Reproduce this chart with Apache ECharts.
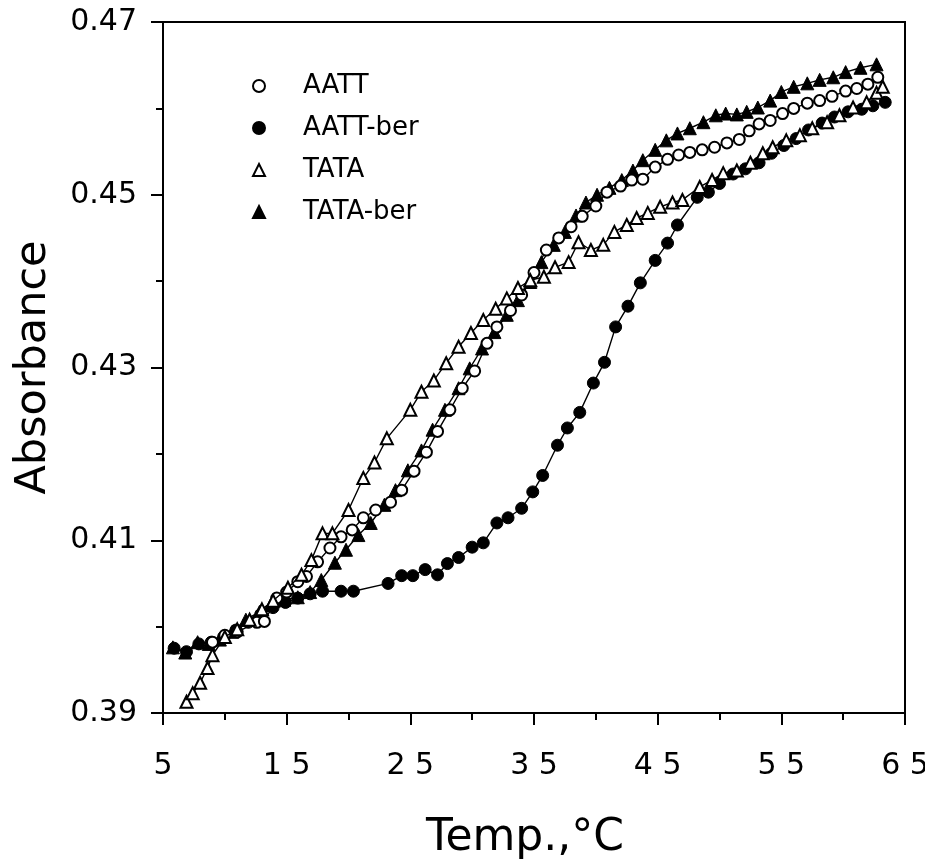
<!DOCTYPE html>
<html>
<head>
<meta charset="utf-8">
<script src="https://cdn.jsdelivr.net/npm/echarts@6/dist/echarts.min.js"></script>
<style>html,body{margin:0;padding:0;background:#fff;}#c{width:925px;height:861px;}</style>
</head>
<body>
<div id="c"></div>
<script>
// ---- data (Temp °C, Absorbance) ----
const aatt = [[9.0,0.3982],[10.0,0.3990],[11.0,0.3994],[12.6,0.4005],[13.2,0.4006],[14.2,0.4033],[15.0,0.4040],[15.9,0.4052],[16.6,0.4058],[17.5,0.4075],[18.5,0.4091],[19.4,0.4104],[20.3,0.4112],[21.2,0.4126],[22.2,0.4135],[23.4,0.4144],[24.3,0.4158],[25.3,0.4180],[26.3,0.4202],[27.2,0.4226],[28.2,0.4251],[29.2,0.4276],[30.2,0.4296],[31.2,0.4328],[32.0,0.4347],[33.1,0.4366],[34.0,0.4384],[35.0,0.4410],[36.0,0.4436],[37.0,0.4450],[38.0,0.4463],[38.9,0.4475],[40.0,0.4487],[40.9,0.4503],[42.0,0.4510],[42.9,0.4517],[43.8,0.4518],[44.8,0.4532],[45.8,0.4541],[46.7,0.4546],[47.6,0.4549],[48.6,0.4552],[49.6,0.4555],[50.6,0.4560],[51.6,0.4564],[52.4,0.4574],[53.2,0.4582],[54.1,0.4586],[55.1,0.4594],[56.0,0.4600],[57.1,0.4606],[58.1,0.4609],[59.1,0.4614],[60.2,0.4620],[61.1,0.4623],[62.0,0.4628],[62.8,0.4636]];
const aattBer = [[5.9,0.3975],[6.9,0.3971],[7.9,0.3980],[8.9,0.3982],[9.9,0.3988],[10.9,0.3996],[11.9,0.4005],[12.9,0.4014],[13.9,0.4022],[14.9,0.4028],[15.9,0.4033],[16.9,0.4038],[17.9,0.4041],[19.4,0.4041],[20.4,0.4041],[23.2,0.4050],[24.3,0.4059],[25.2,0.4059],[26.2,0.4066],[27.2,0.4060],[28.0,0.4073],[28.9,0.4080],[30.0,0.4092],[30.9,0.4097],[32.0,0.4120],[32.9,0.4126],[34.0,0.4137],[34.9,0.4156],[35.7,0.4175],[36.9,0.4210],[37.7,0.4230],[38.7,0.4248],[39.8,0.4282],[40.7,0.4306],[41.6,0.4347],[42.6,0.4371],[43.6,0.4398],[44.8,0.4424],[45.8,0.4444],[46.6,0.4465],[48.2,0.4497],[49.1,0.4503],[50.0,0.4513],[51.1,0.4524],[52.1,0.4530],[53.2,0.4537],[54.2,0.4548],[55.2,0.4557],[56.2,0.4565],[57.2,0.4575],[58.3,0.4583],[59.3,0.4590],[60.4,0.4596],[61.5,0.4599],[62.4,0.4603],[63.4,0.4607]];
const tata = [[6.9,0.3913],[7.4,0.3923],[8.0,0.3935],[8.6,0.3952],[9.0,0.3967],[10.0,0.3988],[11.0,0.3997],[12.0,0.4008],[13.0,0.4020],[13.9,0.4030],[15.1,0.4045],[16.2,0.4060],[17.0,0.4077],[17.9,0.4108],[18.7,0.4108],[20.0,0.4135],[21.2,0.4172],[22.1,0.4190],[23.1,0.4218],[25.0,0.4251],[25.9,0.4272],[26.9,0.4285],[27.9,0.4305],[28.9,0.4324],[29.9,0.4340],[30.9,0.4355],[31.9,0.4368],[32.8,0.4380],[33.7,0.4392],[34.7,0.4401],[35.8,0.4405],[36.7,0.4416],[37.8,0.4422],[38.6,0.4445],[39.6,0.4436],[40.6,0.4442],[41.5,0.4457],[42.5,0.4465],[43.3,0.4473],[44.2,0.4479],[45.2,0.4486],[46.2,0.4491],[47.0,0.4494],[48.4,0.4509],[49.4,0.4517],[50.3,0.4525],[51.4,0.4528],[52.5,0.4537],[53.5,0.4548],[54.3,0.4555],[55.4,0.4563],[56.5,0.4569],[57.5,0.4577],[58.7,0.4584],[59.7,0.4592],[60.8,0.4601],[61.9,0.4607],[62.7,0.4618],[63.2,0.4625]];
const tataBer = [[5.8,0.3976],[6.8,0.3970],[7.8,0.3982],[8.7,0.3980],[9.6,0.3985],[10.6,0.3994],[11.7,0.4008],[12.8,0.4017],[13.7,0.4025],[14.8,0.4031],[15.9,0.4034],[16.9,0.4040],[17.8,0.4054],[18.9,0.4074],[19.8,0.4089],[20.8,0.4106],[21.8,0.4120],[22.9,0.4141],[23.8,0.4158],[24.8,0.4181],[25.9,0.4204],[26.8,0.4228],[27.8,0.4251],[28.9,0.4276],[29.8,0.4299],[30.8,0.4322],[31.8,0.4341],[32.8,0.4361],[33.7,0.4378],[34.7,0.4399],[35.6,0.4422],[36.6,0.4442],[37.5,0.4457],[38.4,0.4476],[39.2,0.4491],[40.1,0.4500],[41.1,0.4508],[42.1,0.4517],[43.0,0.4528],[43.8,0.4540],[44.8,0.4552],[45.7,0.4563],[46.6,0.4571],[47.6,0.4577],[48.7,0.4584],[49.7,0.4592],[50.5,0.4594],[51.4,0.4593],[52.2,0.4596],[53.1,0.4601],[54.1,0.4609],[55.0,0.4619],[56.0,0.4625],[57.1,0.4629],[58.1,0.4633],[59.2,0.4636],[60.2,0.4642],[61.4,0.4647],[62.7,0.4651]];

const seriesNames = ['AATT', 'AATT-ber', 'TATA', 'TATA-ber'];
const xMajorTicks = [5, 15, 25, 35, 45, 55, 65];
const xMinorTicks = [10, 20, 30, 40, 50, 60];
const xTickLabels = ['5', '1 5', '2 5', '3 5', '4 5', '5 5', '6 5'];
const yMajorTicks = [0.39, 0.41, 0.43, 0.45, 0.47];
const yMinorTicks = [0.40, 0.42, 0.44, 0.46];
const xTitle = 'Temp.,°C';
const yTitle = 'Absorbance';

const FONT = 'DejaVu Sans';
const chart = echarts.init(document.getElementById('c'), null, {renderer: 'canvas'});

const openStyle = {color: '#fff', borderColor: '#000', borderWidth: 2};
const fillStyle = {color: '#000', borderColor: '#000', borderWidth: 1};
function mk(name, data, symbol, style, size, z) {
  return {
    name: name, type: 'line', data: data, xAxisIndex: 0, yAxisIndex: 0,
    symbol: symbol, symbolSize: size, showAllSymbol: true,
    lineStyle: {color: '#000', width: 1.4},
    itemStyle: style, z: z, animation: false,
    emphasis: {disabled: true}
  };
}

const option = {
  backgroundColor: '#fff',
  animation: false,
  grid: {left: 163, right: 20, top: 22, bottom: 148, outerBoundsMode: 'none', containLabel: false,
         show: true, borderColor: '#000', borderWidth: 2, backgroundColor: 'transparent'},
  legend: {
    orient: 'vertical', left: 247, top: 68, itemWidth: 12, itemHeight: 12, itemGap: 16,
    data: [
      {name: 'AATT', icon: 'circle'},
      {name: 'AATT-ber', icon: 'circle'},
      {name: 'TATA', icon: 'triangle'},
      {name: 'TATA-ber', icon: 'triangle'}
    ],
    textStyle: {fontFamily: FONT, fontSize: 26, color: '#000', padding: [0, 0, 0, 33]}
  },
  xAxis: [
    {type: 'value', min: 5, max: 65, interval: 5, position: 'bottom',
     name: xTitle, nameLocation: 'middle', nameGap: 104, nameMoveOverlap: false,
     nameTextStyle: {fontFamily: FONT, fontSize: 44, color: '#000', padding: [0, 18, 0, 0]},
     axisLine: {show: true, onZero: false, lineStyle: {color: '#000', width: 2}},
     axisTick: {show: true, inside: false, length: 12, customValues: xMajorTicks, lineStyle: {color: '#000', width: 2}},
     axisLabel: {customValues: xMajorTicks, margin: 38, fontFamily: FONT, fontSize: 30, color: '#000',
       formatter: function (v) { const i = xMajorTicks.indexOf(Math.round(v)); return i >= 0 ? xTickLabels[i] : ''; }},
     splitLine: {show: false}},
    {type: 'value', min: 5, max: 65, interval: 5, position: 'bottom', gridIndex: 0,
     axisLine: {show: false, onZero: false},
     axisTick: {show: true, inside: false, length: 7, customValues: xMinorTicks, lineStyle: {color: '#000', width: 2}},
     axisLabel: {show: false}, splitLine: {show: false}}
  ],
  yAxis: [
    {type: 'value', min: 0.39, max: 0.47, interval: 0.01, position: 'left',
     name: yTitle, nameLocation: 'middle', nameGap: 108, nameRotate: 90, nameMoveOverlap: false,
     nameTextStyle: {fontFamily: FONT, fontSize: 43, color: '#000'},
     axisLine: {show: true, onZero: false, lineStyle: {color: '#000', width: 2}},
     axisTick: {show: true, inside: false, length: 12, customValues: yMajorTicks, lineStyle: {color: '#000', width: 2}},
     axisLabel: {customValues: yMajorTicks, margin: 26, align: 'right', fontFamily: FONT, fontSize: 30, color: '#000',
       formatter: function (v) { return v.toFixed(2); }},
     splitLine: {show: false}},
    {type: 'value', min: 0.39, max: 0.47, interval: 0.01, position: 'left', gridIndex: 0,
     axisLine: {show: false, onZero: false},
     axisTick: {show: true, inside: false, length: 7, customValues: yMinorTicks, lineStyle: {color: '#000', width: 2}},
     axisLabel: {show: false}, splitLine: {show: false}}
  ],
  series: [
    mk(seriesNames[1], aattBer, 'circle', fillStyle, 12, 2),
    mk(seriesNames[3], tataBer, 'triangle', fillStyle, 13, 3),
    mk(seriesNames[0], aatt, 'circle', openStyle, 11, 4),
    mk(seriesNames[2], tata, 'triangle', openStyle, 12, 5)
  ]
};
chart.setOption(option);
</script>
</body>
</html>
